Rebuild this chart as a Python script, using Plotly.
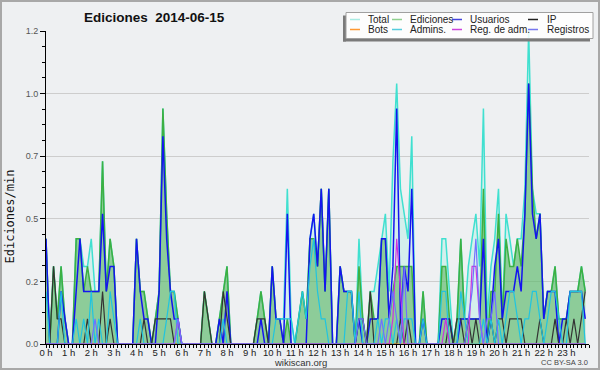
import plotly.graph_objects as go

# ---------------- data (edits per minute, 10-minute bins) ----------------
minutos = list(range(0, 1440, 10))
horas = [m / 60 for m in minutos]

total = [
    0.42, 0, 0.31, 0.1, 0.31, 0.1, 0, 0, 0.42, 0.42,
    0.31, 0.31, 0.42, 0.21, 0.21, 0.73, 0.21, 0.42, 0.31, 0,
    0, 0, 0, 0, 0.42, 0.21, 0.21, 0.1, 0, 0.1,
    0.21, 0.94, 0.52, 0.21, 0.21, 0.1, 0, 0, 0, 0,
    0, 0, 0.21, 0.1, 0, 0, 0.1, 0.21, 0.31, 0,
    0, 0, 0, 0, 0, 0, 0.1, 0.21, 0.1, 0,
    0.31, 0.1, 0.1, 0.1, 0.62, 0.1, 0, 0.1, 0.21, 0.1,
    0.42, 0.52, 0.31, 0.62, 0.21, 0.62, 0, 0, 0.31, 0.21,
    0.21, 0.21, 0, 0.42, 0.1, 0, 0.21, 0.21, 0.31, 0.42,
    0.52, 0.21, 0.73, 1.04, 0.62, 0.52, 0.42, 0.83, 0, 0,
    0.21, 0, 0, 0, 0, 0.42, 0.42, 0.21, 0, 0.1,
    0.42, 0.1, 0.31, 0.42, 0.52, 0.31, 0.94, 0.1, 0.31, 0.42,
    0.62, 0.1, 0.52, 0.42, 0.31, 0.42, 0.42, 0.62, 1.25, 0.62,
    0.52, 0.52, 0.1, 0.21, 0.21, 0.31, 0.1, 0.1, 0.1, 0.21,
    0.21, 0.21, 0.31, 0.21,
]

ediciones = [
    0.42, 0, 0.31, 0.1, 0.31, 0.1, 0, 0, 0.42, 0.42,
    0.21, 0.31, 0.21, 0.21, 0.21, 0.73, 0.21, 0.42, 0.31, 0,
    0, 0, 0, 0, 0.42, 0.21, 0.21, 0.1, 0, 0.1,
    0.21, 0.94, 0.52, 0.21, 0.21, 0.1, 0, 0, 0, 0,
    0, 0, 0.21, 0.1, 0, 0, 0.1, 0.21, 0.31, 0,
    0, 0, 0, 0, 0, 0, 0.1, 0.21, 0.1, 0,
    0.31, 0.1, 0.1, 0, 0.1, 0, 0, 0.1, 0.21, 0.1,
    0.42, 0.42, 0.31, 0.62, 0.21, 0.62, 0, 0, 0.31, 0.21,
    0.21, 0.21, 0, 0.31, 0.1, 0, 0.21, 0.1, 0.1, 0.42,
    0.42, 0.1, 0.21, 0.31, 0.31, 0.31, 0.31, 0.31, 0, 0,
    0.21, 0, 0, 0, 0, 0.31, 0.31, 0.1, 0, 0.1,
    0.42, 0.1, 0.1, 0.1, 0.1, 0.1, 0.62, 0, 0.21, 0.21,
    0.52, 0.1, 0.42, 0.31, 0.31, 0.42, 0.31, 0.52, 1.04, 0.62,
    0.42, 0.52, 0.1, 0.21, 0.21, 0.31, 0.1, 0.1, 0.1, 0.21,
    0.21, 0.21, 0.31, 0.21,
]

usuarios = [
    0.42, 0, 0, 0, 0.21, 0.1, 0, 0, 0.21, 0.42,
    0.21, 0.21, 0.21, 0.21, 0.21, 0.52, 0.21, 0.31, 0.31, 0,
    0, 0, 0, 0, 0.42, 0.21, 0.1, 0.1, 0, 0,
    0.21, 0.83, 0.42, 0.21, 0.1, 0.1, 0, 0, 0, 0,
    0, 0, 0, 0, 0, 0, 0.1, 0, 0.21, 0,
    0, 0, 0, 0, 0, 0, 0, 0.1, 0, 0,
    0.31, 0.1, 0.1, 0, 0.52, 0, 0, 0, 0, 0,
    0.42, 0.52, 0.31, 0.62, 0.21, 0.62, 0, 0, 0.31, 0.21,
    0.21, 0.21, 0, 0.1, 0, 0, 0.1, 0.1, 0.1, 0.42,
    0.42, 0.1, 0.31, 0.94, 0.1, 0.31, 0.21, 0.62, 0, 0,
    0.1, 0, 0, 0, 0, 0.1, 0.1, 0.1, 0, 0,
    0.1, 0.1, 0.1, 0.1, 0.1, 0.1, 0.42, 0, 0.1, 0.31,
    0.42, 0.1, 0.21, 0.21, 0.21, 0.31, 0.21, 0.52, 1.04, 0.52,
    0.42, 0.52, 0.1, 0.21, 0.21, 0.21, 0, 0.1, 0.1, 0.21,
    0.21, 0.21, 0.21, 0.1,
]

ip = [
    0, 0, 0.31, 0.1, 0.1, 0, 0, 0, 0, 0,
    0, 0.1, 0, 0, 0, 0.21, 0, 0.1, 0, 0,
    0, 0, 0, 0, 0, 0, 0.1, 0, 0, 0.1,
    0.1, 0.1, 0.1, 0.1, 0, 0, 0, 0, 0, 0,
    0, 0, 0.21, 0.1, 0, 0, 0, 0.21, 0.1, 0,
    0, 0, 0, 0, 0, 0, 0.1, 0.1, 0.1, 0,
    0, 0, 0, 0, 0, 0, 0, 0, 0, 0,
    0, 0, 0, 0, 0, 0, 0, 0, 0, 0,
    0, 0, 0, 0.1, 0.1, 0, 0.21, 0, 0, 0,
    0, 0, 0, 0, 0.1, 0, 0.1, 0, 0, 0,
    0, 0, 0, 0, 0, 0, 0, 0.1, 0, 0.1,
    0.1, 0, 0.1, 0, 0.1, 0, 0, 0, 0.1, 0,
    0.1, 0.1, 0, 0.1, 0.1, 0.1, 0.1, 0, 0, 0,
    0, 0.1, 0, 0, 0, 0.1, 0, 0, 0.1, 0,
    0.1, 0, 0.1, 0.21,
]

bots = [0] * 144

admins = [
    0.21, 0, 0, 0, 0.21, 0, 0, 0, 0.1, 0,
    0.1, 0, 0.21, 0, 0.1, 0, 0, 0.21, 0.1, 0,
    0, 0, 0, 0, 0, 0.1, 0, 0, 0, 0,
    0, 0, 0.1, 0.21, 0.21, 0, 0, 0, 0, 0,
    0, 0, 0, 0, 0, 0, 0, 0.1, 0, 0,
    0, 0, 0, 0, 0, 0, 0, 0, 0, 0,
    0, 0.1, 0.1, 0.1, 0.1, 0.1, 0, 0.1, 0.21, 0.1,
    0.31, 0.42, 0.21, 0.1, 0.1, 0, 0, 0, 0, 0,
    0.21, 0.21, 0, 0.21, 0, 0, 0, 0, 0.1, 0,
    0.1, 0.1, 0, 0.1, 0, 0.1, 0.1, 0.1, 0, 0,
    0.1, 0, 0, 0, 0, 0.21, 0.21, 0, 0, 0,
    0.21, 0.1, 0, 0, 0, 0, 0.1, 0, 0.1, 0,
    0.1, 0, 0.1, 0.21, 0.21, 0.1, 0, 0.1, 0.1, 0.21,
    0.21, 0.1, 0, 0.1, 0.21, 0.21, 0.1, 0, 0, 0.21,
    0.21, 0.21, 0.21, 0,
]

reg_adm = [
    0, 0, 0, 0, 0, 0, 0, 0, 0, 0,
    0, 0, 0, 0, 0, 0, 0, 0, 0, 0,
    0, 0, 0, 0, 0, 0, 0, 0, 0, 0,
    0, 0, 0, 0, 0, 0.1, 0, 0, 0, 0,
    0, 0, 0, 0, 0, 0, 0, 0, 0, 0,
    0, 0, 0, 0, 0, 0, 0, 0, 0, 0,
    0, 0, 0, 0, 0, 0, 0, 0, 0, 0,
    0, 0, 0, 0, 0, 0, 0, 0, 0, 0,
    0, 0, 0, 0, 0, 0, 0, 0, 0, 0,
    0, 0, 0.1, 0.42, 0.21, 0, 0, 0, 0, 0,
    0, 0, 0, 0, 0, 0, 0.1, 0, 0, 0,
    0, 0, 0, 0.31, 0.31, 0.1, 0, 0, 0, 0,
    0, 0, 0, 0, 0, 0, 0, 0, 0, 0,
    0, 0, 0, 0, 0, 0, 0, 0, 0, 0,
    0, 0, 0, 0,
]

registros = [
    0, 0, 0, 0, 0, 0, 0, 0, 0, 0,
    0, 0, 0, 0.1, 0, 0, 0, 0, 0, 0,
    0, 0, 0, 0, 0, 0, 0, 0, 0, 0,
    0, 0, 0, 0, 0, 0.1, 0, 0, 0, 0,
    0, 0, 0, 0, 0, 0, 0, 0, 0, 0,
    0, 0, 0, 0, 0, 0, 0, 0, 0, 0,
    0, 0, 0, 0, 0, 0, 0, 0, 0, 0,
    0, 0, 0, 0, 0, 0, 0, 0, 0, 0,
    0, 0, 0, 0.1, 0.1, 0, 0, 0, 0, 0.1,
    0, 0.1, 0.21, 0.1, 0, 0.31, 0, 0, 0, 0,
    0, 0, 0, 0, 0, 0, 0, 0, 0, 0,
    0, 0, 0.1, 0.21, 0.42, 0.1, 0, 0.1, 0.1, 0.21,
    0, 0, 0, 0, 0, 0, 0, 0, 0, 0,
    0, 0, 0, 0, 0, 0, 0, 0, 0, 0,
    0, 0, 0, 0,
]

hour_ticks = list(range(24))
hour_labels = [f"{h} h" for h in hour_ticks]
y_ticks = [0, 0.25, 0.5, 0.75, 1.0, 1.25]
y_labels = ["0.0", "0.2", "0.5", "0.7", "1.0", "1.2"]

series = [
    ("Total", total, "#40e0d0", "#a8ebe3", 1.5),
    ("Ediciones", ediciones, "#3cb043", "#8fd08f", 1.5),
    ("Usuarios", usuarios, "#1414f0", "#4444dd", 1.5),
    ("IP", ip, "#333333", "#222222", 1.2),
    ("Bots", bots, "#ff9933", "#ff9933", 1.2),
    ("Admins.", admins, "#20c4e0", "#55ccdd", 1.2),
    ("Reg. de adm.", reg_adm, "#cc33dd", "#cc44dd", 1.2),
    ("Registros", registros, "#7070ff", "#7777ee", 1.2),
]

# ---------------- layout geometry ----------------
W, H = 600, 370
ML, MR, MT, MB = 46, 11, 31, 26
PW = W - ML - MR
PH = H - MT - MB
BG = "#eef0f2"


def fx(p):
    return (p - ML) / PW


def fy(p):
    return (H - MB - p) / PH


fig = go.Figure()
for name, vals, color, _sw, width in series:
    kw = {}
    if name == "Total":
        kw = dict(fill="tozeroy", fillcolor="rgba(160,235,225,0.32)")
    elif name == "Ediciones":
        kw = dict(fill="tozeroy", fillcolor="rgba(70,170,70,0.5)")
    fig.add_trace(go.Scatter(
        x=horas, y=vals, name=name, mode="lines",
        line=dict(color=color, width=width),
        showlegend=False, hoverinfo="skip", **kw))

shapes = []
annotations = []

# outer border
shapes.append(dict(type="rect", xref="paper", yref="paper",
                   x0=fx(1), x1=fx(599), y0=fy(369), y1=fy(1),
                   line=dict(color="#a8a8a8", width=2), layer="above"))

# legend box with shadow
shapes.append(dict(type="rect", xref="paper", yref="paper",
                   x0=fx(343), x1=fx(346), y0=fy(41.5), y1=fy(15.5),
                   line=dict(width=0), fillcolor="#7a7a7a", layer="above"))
shapes.append(dict(type="rect", xref="paper", yref="paper",
                   x0=fx(343), x1=fx(590), y0=fy(41.5), y1=fy(38.5),
                   line=dict(width=0), fillcolor="#7a7a7a", layer="above"))
shapes.append(dict(type="rect", xref="paper", yref="paper",
                   x0=fx(346), x1=fx(593), y0=fy(38.5), y1=fy(12.5),
                   line=dict(color="#a0a0a0", width=1),
                   fillcolor="rgba(255,255,255,0.85)", layer="above"))

col_sw = [350, 392, 452, 528]
col_tx = [366, 408, 468, 545]
row_y = [19.5, 29.5]
for k, (name, _v, _c, swatch, _w) in enumerate(series):
    r, c = divmod(k, 4)
    shapes.append(dict(type="line", xref="paper", yref="paper",
                       x0=fx(col_sw[c]), x1=fx(col_sw[c] + 10),
                       y0=fy(row_y[r]), y1=fy(row_y[r]),
                       line=dict(color=swatch, width=1.5), layer="above"))
    annotations.append(dict(text=name, xref="paper", yref="paper",
                            x=fx(col_tx[c]), y=fy(row_y[r]),
                            xanchor="left", yanchor="middle", showarrow=False,
                            font=dict(family="Liberation Sans, Arial", size=10, color="#222")))

# title
annotations.append(dict(text="<b>Ediciones\u00a0 2014-06-15</b>", xref="paper", yref="paper",
                        x=fx(154), y=fy(17), xanchor="center", yanchor="middle",
                        showarrow=False,
                        font=dict(family="Liberation Sans, Arial", size=13.5, color="#111")))
# y title
annotations.append(dict(text="Ediciones/min", xref="paper", yref="paper",
                        x=fx(9.5), y=fy(217), xanchor="center", yanchor="middle",
                        textangle=-90, showarrow=False,
                        font=dict(family="DejaVu Sans Mono", size=12, color="#111")))
# footer
annotations.append(dict(text="wikiscan.org", xref="paper", yref="paper",
                        x=fx(300), y=fy(362), xanchor="center", yanchor="middle",
                        showarrow=False,
                        font=dict(family="Liberation Sans, Arial", size=9.5, color="#333")))
annotations.append(dict(text="CC BY-SA 3.0", xref="paper", yref="paper",
                        x=fx(590), y=fy(362.5), xanchor="right", yanchor="middle",
                        showarrow=False,
                        font=dict(family="Liberation Sans, Arial", size=7.5, color="#444")))

fig.update_layout(
    width=W, height=H,
    margin=dict(l=ML, r=MR, t=MT, b=MB, pad=0),
    paper_bgcolor=BG, plot_bgcolor=BG,
    showlegend=False,
    shapes=shapes, annotations=annotations,
    xaxis=dict(range=[0, 24], tickmode="array", tickvals=hour_ticks, ticktext=hour_labels,
               ticks="outside", ticklen=3, tickcolor="#000", tickwidth=1,
               ticklabelstandoff=-3,
               showline=True, linecolor="#000", linewidth=1,
               showgrid=False, zeroline=False,
               tickfont=dict(family="Liberation Sans Narrow, Liberation Sans, Arial", size=9.5, color="#222"),
               minor=dict(dtick=1 / 6, tick0=0, ticks="outside", ticklen=3,
                          tickcolor="#000", showgrid=False),
               fixedrange=True),
    yaxis=dict(range=[0, 1.25], tickmode="array", tickvals=y_ticks, ticktext=y_labels,
               ticks="outside", ticklen=5, tickcolor="#000", tickwidth=1,
               showline=True, linecolor="#000", linewidth=1,
               showgrid=True, gridcolor="#cdcdcd", gridwidth=1, zeroline=False,
               tickfont=dict(family="Liberation Sans, Arial", size=9, color="#555"),
               minor=dict(dtick=0.0625, tick0=0, ticks="outside", ticklen=3,
                          tickcolor="#000", showgrid=False),
               fixedrange=True),
)

fig.write_html("out.html",
               config={"displayModeBar": False, "staticPlot": True},
               post_script="document.body.style.margin='0';document.body.style.overflow='hidden';")
